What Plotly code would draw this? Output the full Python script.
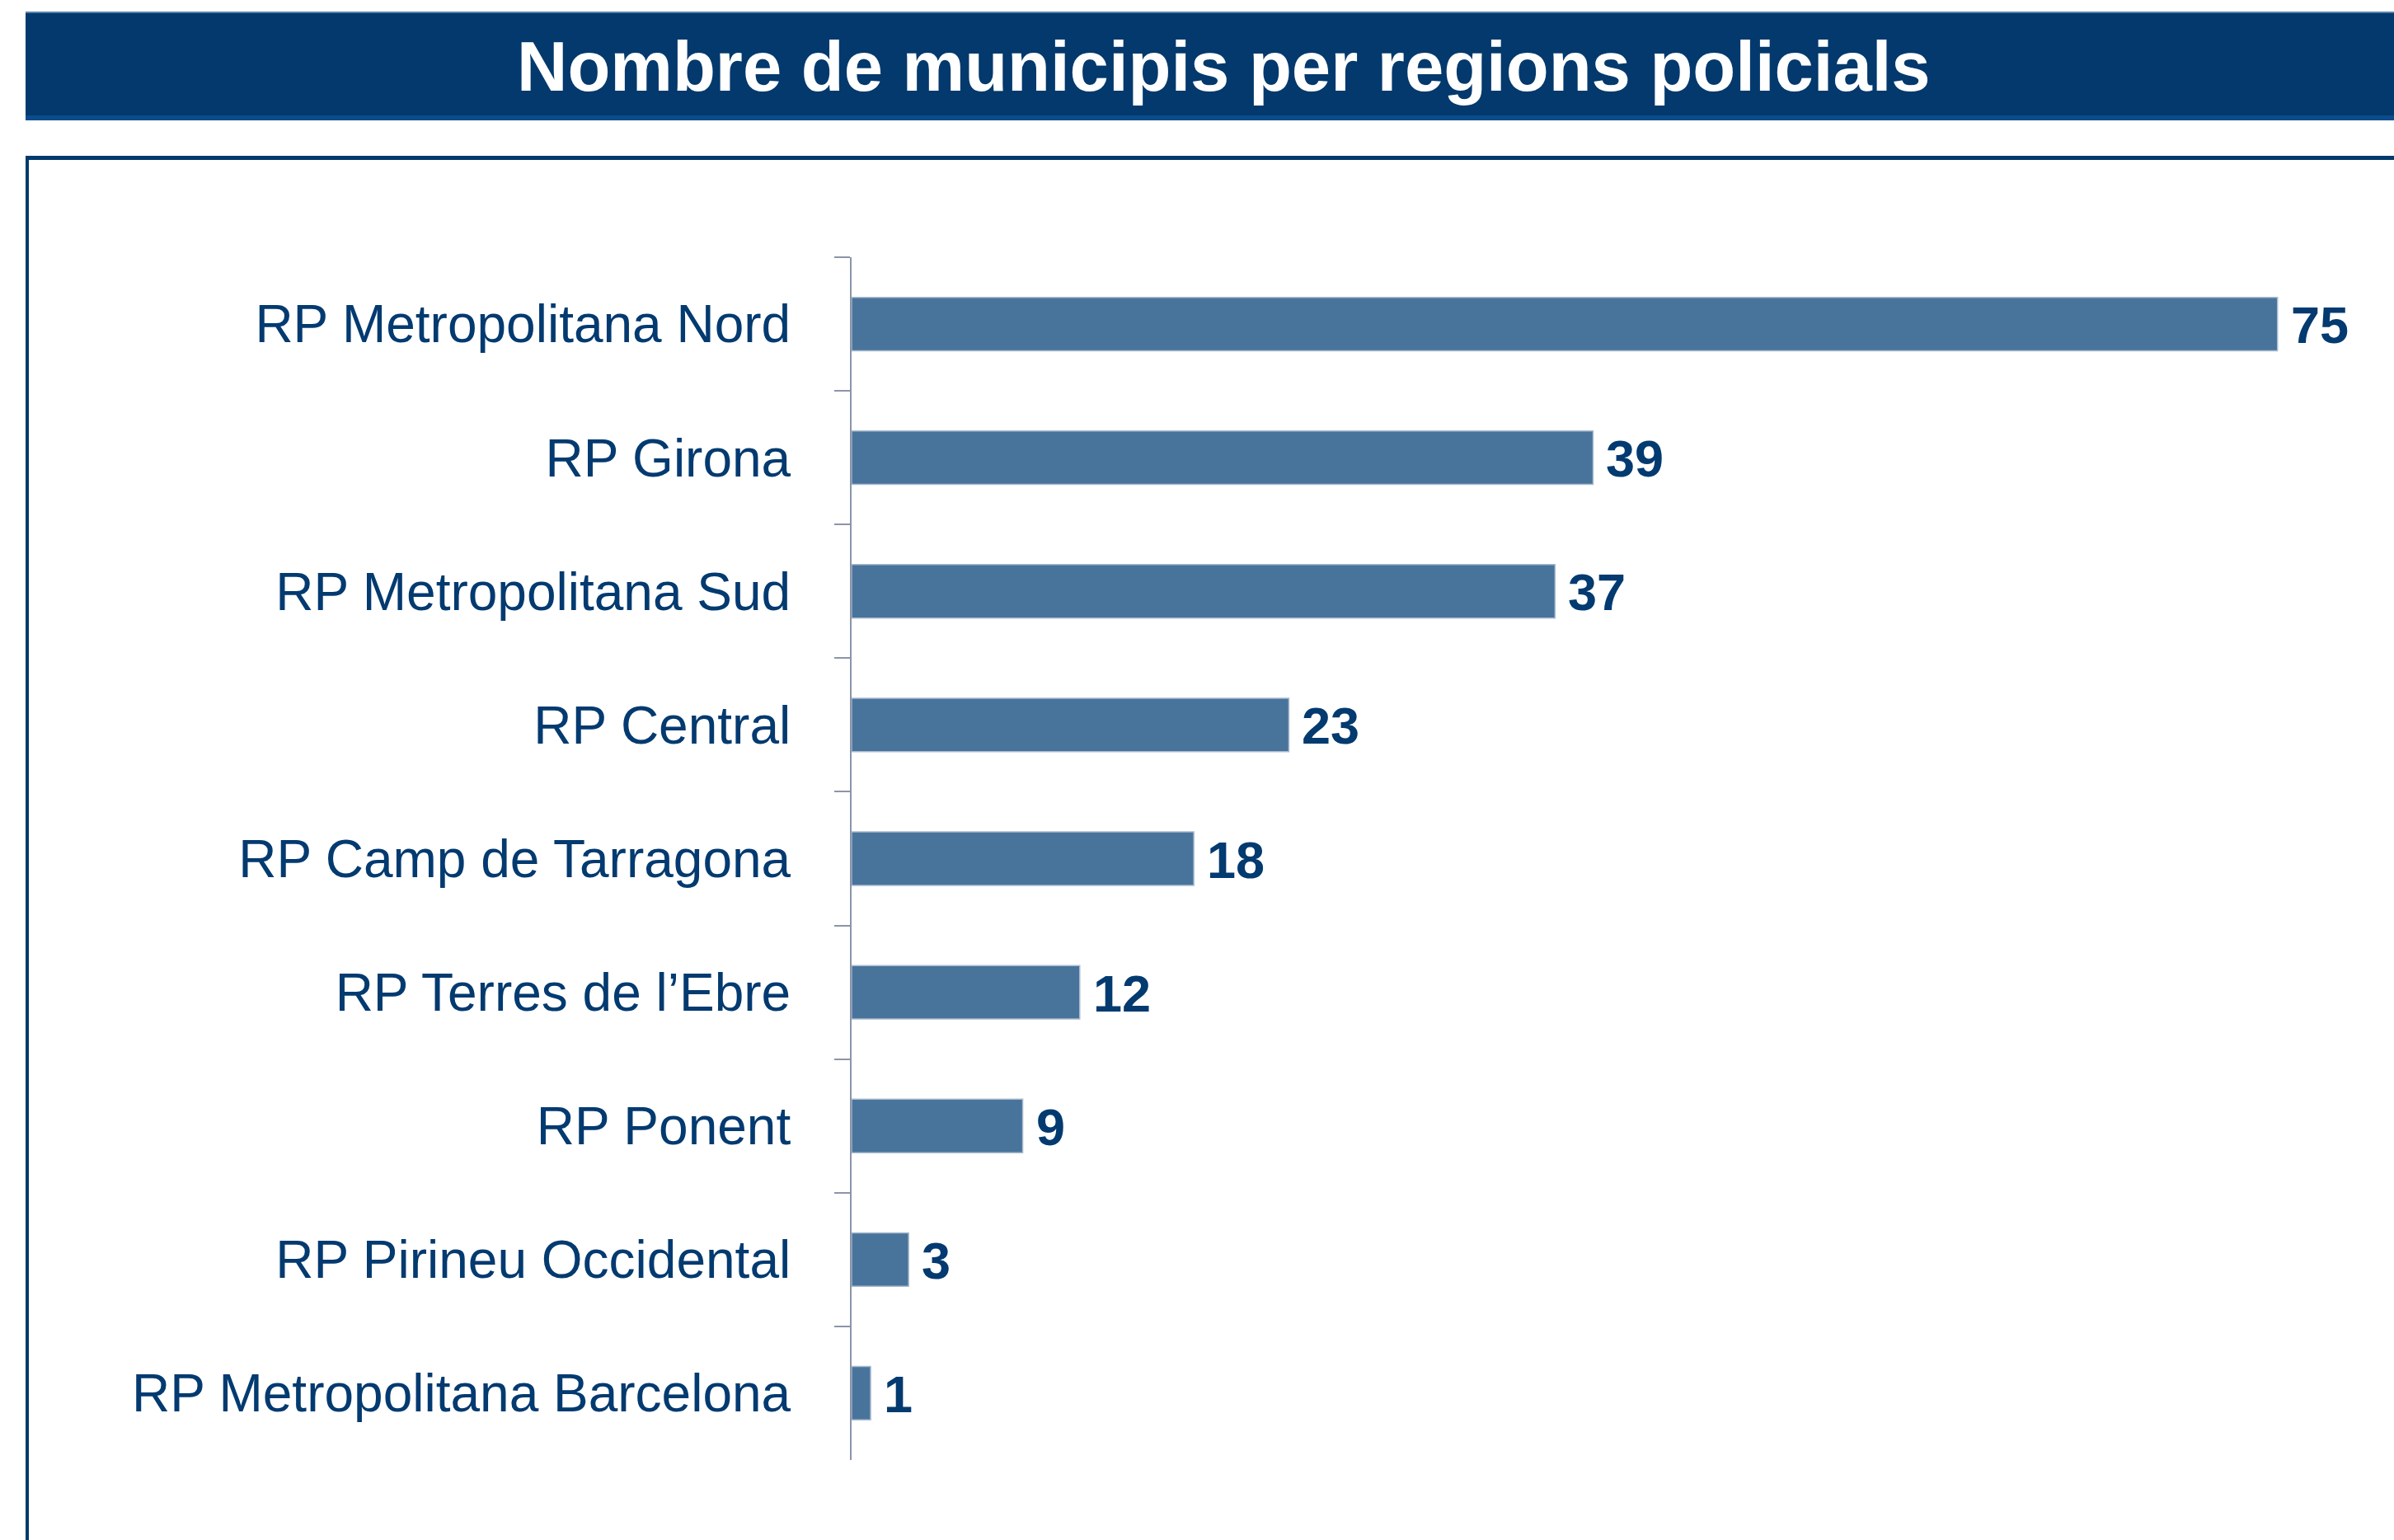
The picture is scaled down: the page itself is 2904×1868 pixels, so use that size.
import plotly.graph_objects as go

# ---- data ----
categories = [
    "RP Metropolitana Nord",
    "RP Girona",
    "RP Metropolitana Sud",
    "RP Central",
    "RP Camp de Tarragona",
    "RP Terres de l\u2019Ebre",
    "RP Ponent",
    "RP Pirineu Occidental",
    "RP Metropolitana Barcelona",
]
values = [75, 39, 37, 23, 18, 12, 9, 3, 1]
title_text = "Nombre de municipis per regions policials"

# ---- geometry (pixels) ----
W, H = 2904, 1868
L, R, T, B = 1033, 2878, 312, 1771

def px(xp):
    return (xp - L) / (R - L)

def py(yp):
    return (B - yp) / (B - T)

NAVY = "#03396c"
TEXT = "#033a70"
BAR = "#48739b"
AXIS = "#8a95aa"
FONT = "Liberation Sans, Arial, sans-serif"

fig = go.Figure()
fig.add_trace(go.Bar(
    x=values, y=categories, orientation="h",
    marker=dict(color=BAR, line=dict(color="#a9bbd0", width=1.5)),
    width=0.4, hoverinfo="skip",
))

for v, c in zip(values, categories):
    fig.add_annotation(x=v, y=c, xref="x", yref="y", text=str(v),
                       showarrow=False, xanchor="left", yanchor="middle",
                       xshift=14, yshift=-1,
                       font=dict(family=FONT, size=63, color=TEXT, weight="bold"))

shapes = []
# title bar
shapes.append(dict(type="rect", xref="paper", yref="paper",
                   x0=px(31), x1=px(2960), y0=py(146), y1=py(14),
                   fillcolor=NAVY, line=dict(width=0), layer="above"))
shapes.append(dict(type="rect", xref="paper", yref="paper",
                   x0=px(31), x1=px(2960), y0=py(146), y1=py(140),
                   fillcolor="#0a4c8c", line=dict(width=0), layer="above"))
shapes.append(dict(type="rect", xref="paper", yref="paper",
                   x0=px(31), x1=px(2960), y0=py(16), y1=py(14),
                   fillcolor="#5a82ad", line=dict(width=0), layer="above"))
# frame
shapes.append(dict(type="rect", xref="paper", yref="paper",
                   x0=px(31), x1=px(2960), y0=py(194), y1=py(189),
                   fillcolor=NAVY, line=dict(width=0), layer="above"))
shapes.append(dict(type="rect", xref="paper", yref="paper",
                   x0=px(31), x1=px(35), y0=py(1900), y1=py(189),
                   fillcolor=NAVY, line=dict(width=0), layer="above"))

fig.add_annotation(x=px(1484), y=py(80), xref="paper", yref="paper",
                   text=title_text, showarrow=False,
                   xanchor="center", yanchor="middle",
                   font=dict(family=FONT, size=85, color="white", weight="bold"))

fig.update_layout(
    width=W, height=H,
    margin=dict(l=L, r=W - R, t=T, b=H - B, pad=0),
    paper_bgcolor="white", plot_bgcolor="white",
    showlegend=False, shapes=shapes,
    font=dict(family=FONT, color=TEXT),
)
fig.update_xaxes(visible=False, range=[0, 80], fixedrange=True)
fig.update_yaxes(
    autorange="reversed", automargin=False, fixedrange=True,
    showline=True, linecolor=AXIS, linewidth=2,
    ticks="outside", ticklen=19, tickwidth=2, tickcolor=AXIS,
    tickson="boundaries", showgrid=False,
    tickfont=dict(family=FONT, size=64, color=TEXT),
    ticklabelstandoff=59,
)

fig.write_html("out.html", config={"displayModeBar": False},
               post_script="document.body.style.margin='0';")
